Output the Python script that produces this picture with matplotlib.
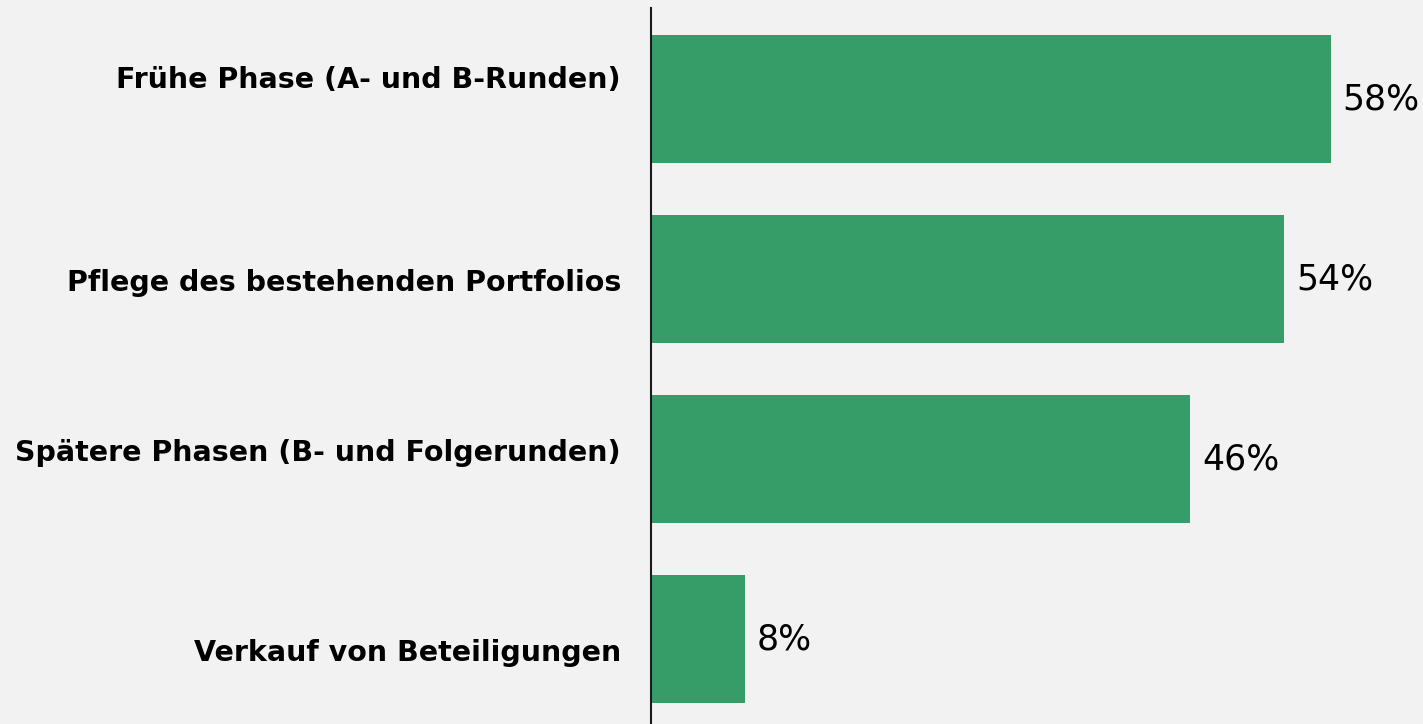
import matplotlib.pyplot as plt
import matplotlib.transforms as mtransforms

# ==========================
# DATA
# ==========================

categories = [
    "Frühe Phase (A- und B-Runden)",
    "Pflege des bestehenden Portfolios",
    "Spätere Phasen (B- und Folgerunden)",
    "Verkauf von Beteiligungen",
]
values = [58, 54, 46, 8]
value_labels = ["58%", "54%", "46%", "8%"]

# small vertical nudges of the category labels (points), as in the original
label_shift = [16, -1, 6.5, -8]

BG = "#F2F2F2"
GREEN = "#369C68"

# ==========================
# FIGURE
# ==========================

W, H = 1423, 724
fig = plt.figure(figsize=(W / 100, H / 100), dpi=100, facecolor=BG)
ax = fig.add_axes([651 / W, 0, 1 - 651 / W, 1 - 8 / H], facecolor=BG)

pos = list(range(len(categories)))
bars = ax.barh(pos, values, height=0.711, color=GREEN)

ax.set_ylim(3.472, -0.506)
ax.set_xlim(0, (W - 651) / 11.72)

for spine in ["top", "right", "bottom"]:
    ax.spines[spine].set_visible(False)
ax.spines["left"].set_linewidth(1.5)
ax.spines["left"].set_color("#1a1a1a")

ax.set_xticks([])
ax.set_yticks(pos)
ax.set_yticklabels(categories, fontsize=20.5, fontweight="bold", color="black")
ax.tick_params(axis="y", length=0, pad=21.6)

for lbl, dy in zip(ax.get_yticklabels(), label_shift):
    off = mtransforms.ScaledTranslation(0, dy / 72, fig.dpi_scale_trans)
    lbl.set_transform(lbl.get_transform() + off)

for bar, txt in zip(bars, value_labels):
    ax.annotate(
        txt,
        xy=(bar.get_width(), bar.get_y() + bar.get_height() / 2),
        xytext=(8.6, 0),
        textcoords="offset points",
        ha="left",
        va="center",
        fontsize=25,
        color="black",
    )

fig.savefig("out.png", dpi=100, facecolor=BG)
